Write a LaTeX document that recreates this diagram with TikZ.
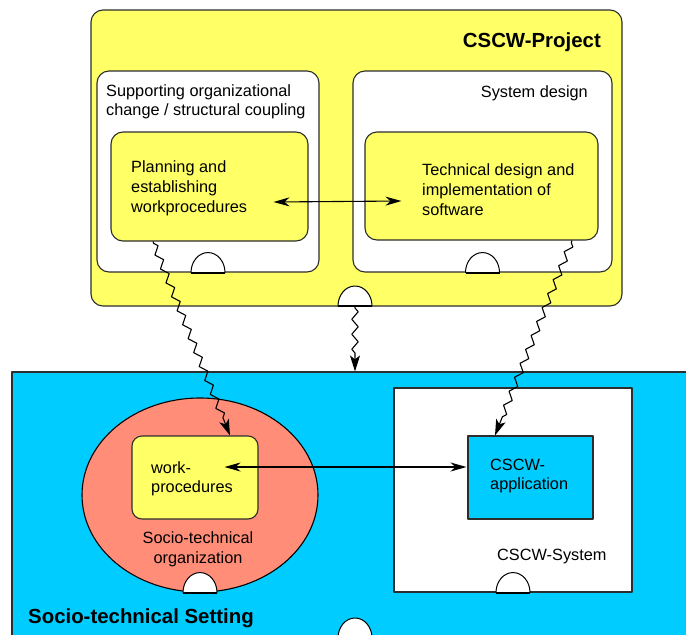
\documentclass[tikz,border=0pt]{standalone}
\usepackage{fontspec}
\setmainfont{Liberation Sans}
\usetikzlibrary{arrows.meta,decorations.pathmorphing,shapes.geometric}

\definecolor{projyellow}{RGB}{255,255,102}
\definecolor{settingblue}{RGB}{0,204,255}
\definecolor{orgsalmon}{RGB}{255,141,120}
\definecolor{edgegray}{RGB}{45,45,45}

% half-round "port" sitting on the lower edge of a container
\newcommand\drawcup[1]{%
  \draw[cup] ([xshift=-17pt]#1) arc[start angle=180,end angle=0,x radius=17pt,y radius=20pt] -- cycle;
  \draw[cupbase] ([xshift=-17pt]#1) -- ([xshift=17pt]#1);}

\begin{document}
\begin{tikzpicture}[x=1pt,y=-1pt,
  line join=round,
  container/.style={draw=edgegray, line width=1.1pt, rounded corners=12pt, inner sep=0pt},
  sqbox/.style={draw=edgegray, line width=1.1pt, inner sep=0pt},
  cup/.style={draw=black, line width=1pt, fill=white},
  cupbase/.style={draw=black, line width=2pt},
  txt/.style={inner sep=0pt, align=left, font=\fontsize{16.3}{20}\selectfont},
  title/.style={inner sep=0pt, font=\fontsize{20.4}{24}\selectfont\bfseries},
  biarrow/.style={draw=black, line width=1.1pt,
    {Stealth[length=16pt,width=9pt,inset=5pt]}-{Stealth[length=16pt,width=9pt,inset=5pt]}},
  influence/.style={draw=black, line width=1.1pt, -{Stealth[length=16pt,width=10pt,inset=4pt]},
    decorate, decoration={zigzag, segment length=15pt, amplitude=3.2pt,
      pre length=2pt, post length=15pt}}]

\useasboundingbox (0,0) rectangle (686,635);
\clip (0,0) rectangle (686,635);

% ---------- CSCW project ----------
\node[container, fill=projyellow, minimum width=531pt, minimum height=296pt] (project) at (356.5,158) {};
\node[container, fill=white, minimum width=222pt, minimum height=201pt] (orgchange) at (208,171.5) {};
\node[container, fill=white, minimum width=259pt, minimum height=201pt] (sysdesign) at (482.5,171.5) {};
\node[container, fill=projyellow, minimum width=197pt, minimum height=109pt] (plan) at (209.5,186.5) {};
\node[container, fill=projyellow, minimum width=233pt, minimum height=108pt] (tech) at (481.5,186) {};

\drawcup{orgchange.south}
\drawcup{sysdesign.south}
\coordinate (projcup) at (355,306);
\drawcup{projcup}

% multi-line labels are placed by the baseline of their last line
\node[title, anchor=base east] (projtitle) at (601,47) {CSCW-Project};
\node[txt, anchor=base east] (sdtitle) at (588,97) {System design};
\node[txt, anchor=base west, font=\fontsize{16.3}{19.5}\selectfont] (octitle) at (106,115.5)
  {Supporting organizational\\change / structural coupling};
\node[txt, anchor=base west] (plantext) at (131,212) {Planning and\\establishing\\workprocedures};
\node[txt, anchor=base west] (techtext) at (422,215) {Technical design and\\implementation of\\software};

% ---------- socio-technical setting ----------
\node[sqbox, fill=settingblue, minimum width=720pt, minimum height=290pt] (setting) at (372,517) {};
\coordinate (settingcup) at (355,638);
\drawcup{settingcup}

\node[draw=black, line width=1.1pt, fill=orgsalmon, ellipse, inner sep=0pt,
  minimum width=236pt, minimum height=194pt] (org) at (200,495) {};
\drawcup{org.south}
\node[container, rounded corners=10pt, fill=projyellow, minimum width=126pt, minimum height=83pt] (work) at (195,477.5) {};

\node[sqbox, fill=white, minimum width=238pt, minimum height=204pt] (system) at (513,490) {};
\drawcup{system.south}
\node[sqbox, fill=settingblue, minimum width=125pt, minimum height=83pt] (app) at (530.5,477.5) {};

\node[txt, anchor=base west, font=\fontsize{16.3}{19}\selectfont] (worktext) at (151,492) {work-\\procedures};
\node[txt, anchor=base, align=center] (orgtext) at (198,563) {Socio-technical\\organization};
\node[txt, anchor=base west, font=\fontsize{16.3}{19}\selectfont] (apptext) at (490,489) {CSCW-\\application};
\node[txt, anchor=base west] (systext) at (497,560) {CSCW-System};
\node[title, anchor=base west] (settitle) at (28,623) {Socio-technical Setting};

% ---------- connectors ----------
\draw[biarrow] ([xshift=-35pt,yshift=-15.5pt]plan.east) -- ([xshift=37pt,yshift=-15pt]tech.west);
\draw[biarrow] ([xshift=-34pt,yshift=10.5pt]work.east) -- ([xshift=-1pt,yshift=10.5pt]app.west);

\draw[influence] ([xshift=-56.5pt]plan.south) -- ([xshift=35pt]work.north);
\draw[influence] ([xshift=90.5pt]tech.south) -- ([xshift=-35.5pt]app.north);
\draw[influence] (projcup) -- (projcup |- setting.north);

\end{tikzpicture}
\end{document}
